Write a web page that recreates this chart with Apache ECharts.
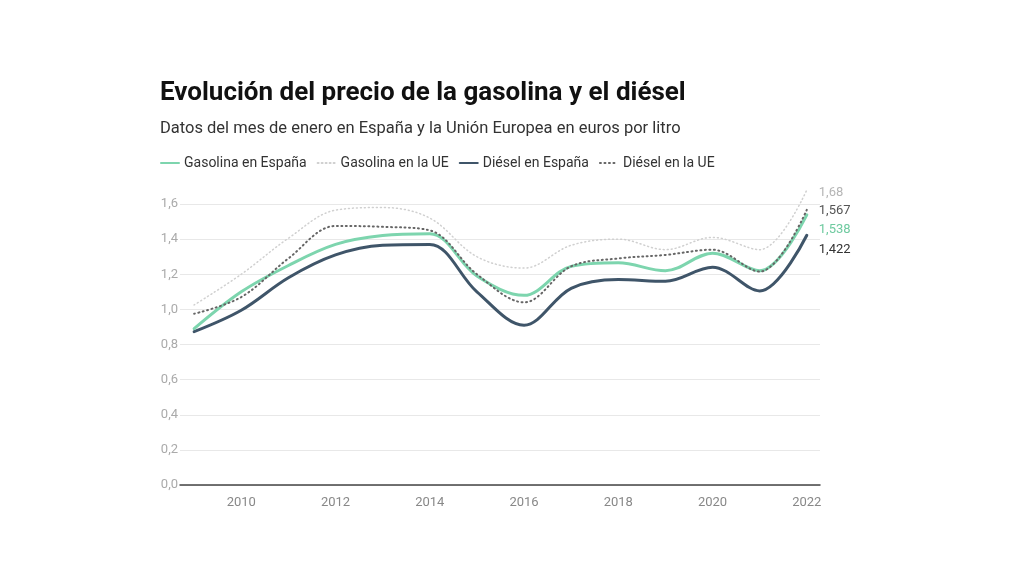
<!DOCTYPE html>
<html>
<head>
<meta charset="utf-8">
<script src="https://cdn.jsdelivr.net/npm/echarts@6/dist/echarts.min.js"></script>
<style>
  html, body { margin: 0; padding: 0; background: #fff; }
  #chart { width: 1024px; height: 576px; }
</style>
</head>
<body>
<div id="chart"></div>
<script>
// datos de enero, euros por litro
const years = [2009, 2010, 2011, 2012, 2013, 2014, 2015, 2016, 2017, 2018, 2019, 2020, 2021, 2022];
const gasolinaEspana = [0.89, 1.10, 1.25, 1.37, 1.42, 1.43, 1.19, 1.08, 1.245, 1.265, 1.22, 1.32, 1.22, 1.538];
const gasolinaUE = [1.025, 1.20, 1.405, 1.565, 1.58, 1.52, 1.30, 1.235, 1.365, 1.40, 1.34, 1.41, 1.34, 1.68];
const dieselEspana = [0.873, 0.995, 1.18, 1.31, 1.365, 1.37, 1.10, 0.91, 1.12, 1.17, 1.16, 1.24, 1.105, 1.422];
const dieselUE = [0.975, 1.07, 1.29, 1.475, 1.47, 1.45, 1.20, 1.04, 1.245, 1.29, 1.31, 1.34, 1.215, 1.567];
const xLabels = [2010, 2012, 2014, 2016, 2018, 2020, 2022];
const endLabels = ['1,538', '1,68', '1,422', '1,567'];

const font = 'Roboto';
const pair = (arr) => years.map((y, i) => [y, arr[i]]);

const chart = echarts.init(document.getElementById('chart'));

function line(name, data, color, width, type, labelColor, labelText, dy, z) {
  return {
    name: name,
    type: 'line',
    data: pair(data),
    smooth: 0.35,
    symbol: 'none',
    clip: false,
    z: z,
    lineStyle: { color: color, width: width, type: type, cap: 'round' },
    itemStyle: { color: color },
    endLabel: {
      show: true,
      formatter: labelText,
      color: labelColor,
      fontFamily: font,
      fontSize: 13,
      distance: 12,
      offset: [0, dy]
    },
    emphasis: { disabled: true }
  };
}

const option = {
  animation: false,
  title: [
    {
      text: 'Evolución del precio de la gasolina y el diésel',
      left: 160,
      top: 80,
      padding: 0,
      textStyle: { fontFamily: font, fontSize: 26, fontWeight: 'bold', color: '#111' }
    },
    {
      text: 'Datos del mes de enero en España y la Unión Europea en euros por litro',
      left: 160,
      top: 120,
      padding: 0,
      textStyle: { fontFamily: font, fontSize: 16.5, fontWeight: 'normal', color: '#333' }
    }
  ],
  legend: {
    left: 160,
    top: 156,
    padding: 0,
    itemWidth: 18,
    itemHeight: 10,
    itemGap: 10,
    itemStyle: { opacity: 0 },
    textStyle: { fontFamily: font, fontSize: 14, color: '#333' },
    data: ['Gasolina en España', 'Gasolina en la UE', 'Diésel en España', 'Diésel en la UE']
  },
  grid: { left: 180, right: 204, top: 204, bottom: 91, containLabel: false },
  xAxis: {
    type: 'value',
    min: 2008.7,
    max: 2022.28,
    splitLine: { show: false },
    axisTick: { show: false },
    axisLine: { show: true, lineStyle: { color: '#444', width: 1.5 } },
    axisLabel: {
      customValues: xLabels,
      color: '#888',
      fontFamily: font,
      fontSize: 13,
      margin: 11,
      formatter: (v) => String(v)
    }
  },
  yAxis: {
    type: 'value',
    min: 0,
    max: 1.6,
    interval: 0.2,
    axisLine: { show: false },
    axisTick: { show: false },
    splitLine: { lineStyle: { color: '#e8e8e8', width: 1 } },
    axisLabel: {
      color: '#aaa',
      fontFamily: font,
      fontSize: 13,
      margin: 2,
      formatter: (v) => v.toFixed(1).replace('.', ',')
    }
  },
  series: [
    line('Gasolina en España', gasolinaEspana, '#7dd5ae', 3, 'solid', '#6fcaa0', endLabels[0], 15, 4),
    line('Gasolina en la UE', gasolinaUE, '#d0d0d0', 1.5, [1, 3], '#b5b5b5', endLabels[1], 3, 2),
    line('Diésel en España', dieselEspana, '#3f5569', 3, 'solid', '#333', endLabels[2], 14, 3),
    line('Diésel en la UE', dieselUE, '#666', 2, [1, 3.5], '#555', endLabels[3], 1, 5)
  ]
};

chart.setOption(option);
</script>
</body>
</html>
